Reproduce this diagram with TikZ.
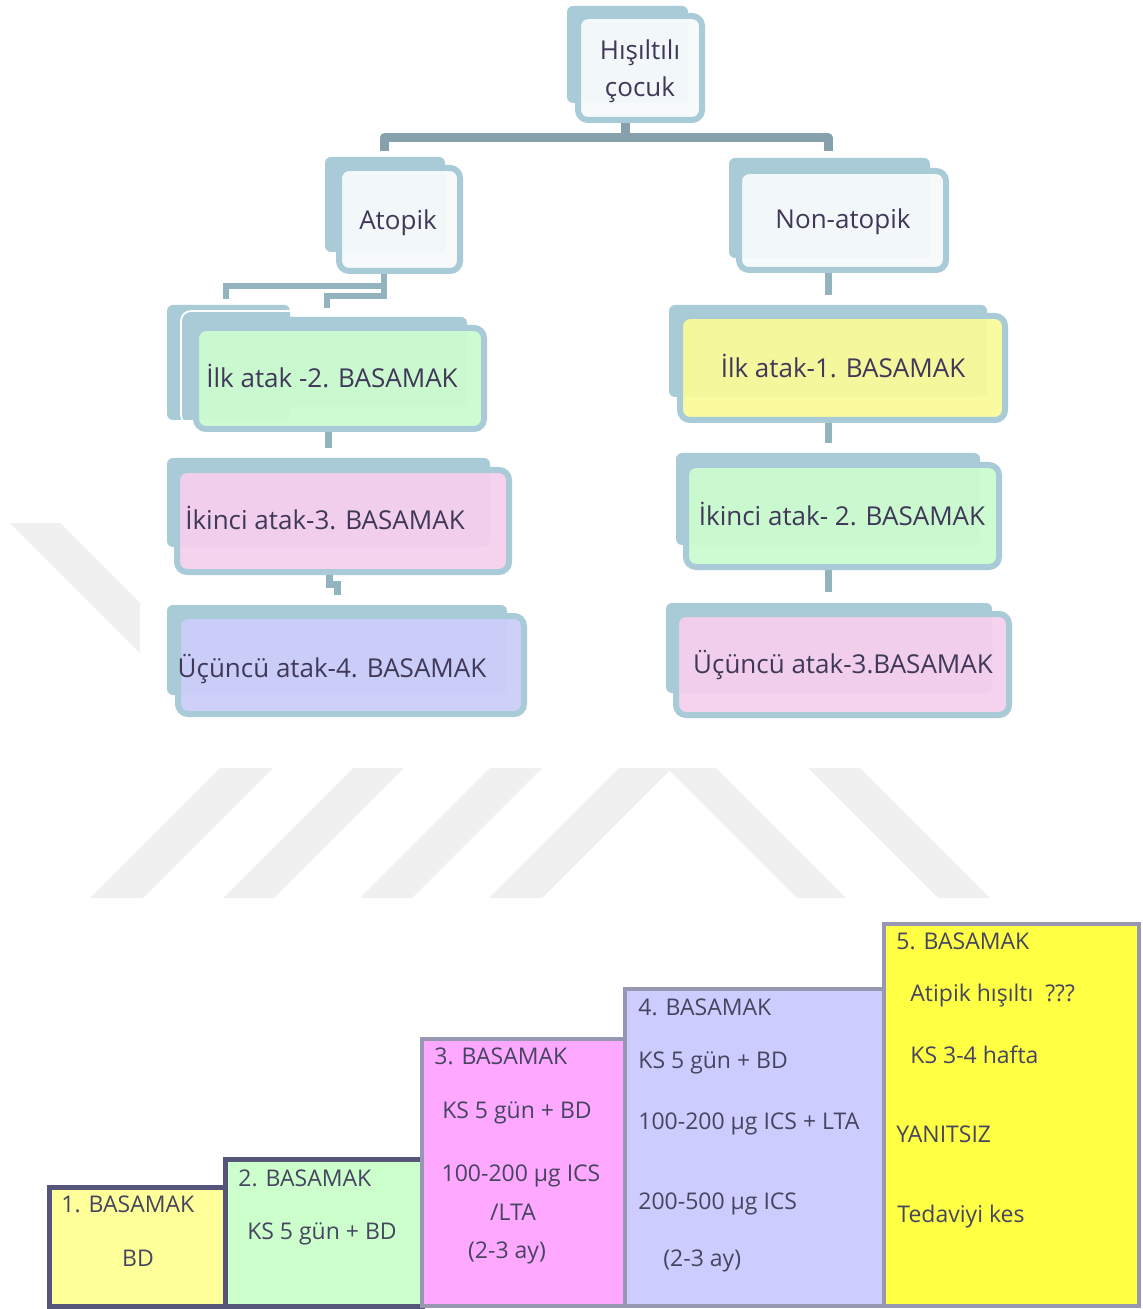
\documentclass[tikz,border=0pt]{standalone}
\usepackage{fontspec}
\setmainfont{Open Sans}
\usetikzlibrary{fit}
\definecolor{bluegrey}{HTML}{A8CBD7}
\definecolor{conncol}{HTML}{93B4BF}
\definecolor{barcol}{HTML}{86A1AB}
\definecolor{treetext}{HTML}{403858}
\definecolor{steptext}{HTML}{45455F}
\definecolor{wm}{HTML}{F0F0F0}
\definecolor{fwhite}{HTML}{F6FAFB}
\definecolor{fgreen}{HTML}{CCFCD0}
\definecolor{fpink}{HTML}{F5D0EE}
\definecolor{flav}{HTML}{CCCEFA}
\definecolor{fyellow}{HTML}{FAFA9A}
\definecolor{sy1}{HTML}{FFFF99}
\definecolor{sgr}{HTML}{CCFFCC}
\definecolor{spk}{HTML}{FFA8FF}
\definecolor{slv}{HTML}{CCCCFF}
\definecolor{sy5}{HTML}{FFFF44}
\definecolor{sdark}{HTML}{55557A}
\definecolor{slight}{HTML}{9797B2}
\tikzset{
  backbox/.style={fill=bluegrey, draw=none, rounded corners=3pt, inner sep=0pt},
  frontbox/.style={draw=bluegrey, line width=3pt, rounded corners=5pt, inner sep=0pt, fill opacity=0.95},
  treetxt/.style={font=\fontsize{13}{19}\selectfont, text=treetext, inner sep=0pt, anchor=base},
  conn/.style={draw=conncol, line width=3.5pt},
  ghostconn/.style={draw=conncol, line width=3pt},
  barline/.style={draw=barcol, line width=4.5pt, line join=round},
  stepbox/.style={draw=slight, line width=2pt, inner sep=0pt},
  steptxt/.style={font=\fontsize{11.5}{14}\selectfont, text=steptext, inner sep=0pt},
}
\begin{document}
\begin{tikzpicture}[x=0.5pt, y=-0.5pt]
\useasboundingbox (0,0) rectangle (1142,1309);
\fill[white] (0,0) rectangle (1142,1309);

% watermark
\fill[wm] (10,523) -- (60,523) -- (140,603) -- (140,653) -- cycle;
\fill[wm] (220,768) -- (273,768) -- (143,898) -- (90,898) -- cycle;
\fill[wm] (353,768) -- (404,768) -- (274,898) -- (223,898) -- cycle;
\fill[wm] (490,768) -- (542,768) -- (412,898) -- (360,898) -- cycle;
\fill[wm] (489,898) -- (619,768) -- (716,768) -- (846,898) -- (797,898) -- (669.5,770.5) -- (542,898) -- cycle;
\fill[wm] (808,768) -- (860,768) -- (990,898) -- (938,898) -- cycle;

% ---------- tree ----------
% root
\node[backbox, fit={(567,6) (688,103)}] (n0b) {};
\node[frontbox, fill=fwhite, fit={(578,16) (702,120)}] (n0) {};
\node[treetxt] (t0a) at (640,60) {Hışıltılı};
\node[treetxt] (t0b) at (640,97) {çocuk};

% atopik / non-atopik
\node[backbox, fit={(325,157) (445,252)}] (ab) {};
\node[frontbox, fill=fwhite, fit={(339,168) (460,271)}] (a) {};
\node[treetxt] (ta) at (398,230) {Atopik};
\node[backbox, fit={(729,158) (930,258)}] (bb) {};
\node[frontbox, fill=fwhite, fit={(739,171) (946,270)}] (b) {};
\node[treetxt] (tb) at (843,229) {Non-atopik};

% connectors from root
\coordinate (c0) at (625,138);
\coordinate (barL) at (384,138);
\coordinate (barR) at (828,138);
\coordinate (dropL) at (384,151);
\coordinate (dropR) at (828,151);
\draw[barline] (n0.south -| c0) -- (c0);
\draw[barline] (dropL) -- (barL) -- (barR) -- (dropR);

% left column
\node[backbox, fit={(167,305) (290,420)}] (gh) {};
\draw[white, line width=0.9pt, rounded corners=5pt] (181,311) rectangle (300,425);
\node[backbox, fit={(187,317) (467,407)}] (l1b) {};
\node[frontbox, fill=fgreen, fit={(196,328) (484,429)}] (l1) {};
\node[treetxt] (tl1) at (332,388) {İlk atak -2. BASAMAK};

\node[backbox, fit={(167,458) (490,547)}] (l2b) {};
\node[frontbox, fill=fpink, fit={(177,470) (509,572)}] (l2) {};
\node[treetxt] (tl2) at (325,530) {İkinci atak-3. BASAMAK};

\node[backbox, fit={(167,605) (507,695)}] (l3b) {};
\node[frontbox, fill=flav, fit={(178,616) (524,714)}] (l3) {};
\node[treetxt] (tl3) at (332,677) {Üçüncü atak-4. BASAMAK};

\coordinate (aK) at (384,286);
\coordinate (aJ) at (384,296);
\coordinate (g1) at (226,299);
\coordinate (g2) at (327,308);
\draw[ghostconn] (a.south -| aJ) -- (aJ) -| (g2);
\draw[ghostconn] (aK) -| (g1);
\coordinate (k12) at (328,448);
\draw[conn] (l1.south -| k12) -- (k12);
\coordinate (k23a) at (329,584);
\coordinate (k23b) at (337,595);
\draw[conn] (l2.south -| k23a) -- (k23a) -| (k23b);

% right column
\node[backbox, fit={(669,305) (987,397)}] (r1b) {};
\node[frontbox, fill=fyellow, fit={(680,316) (1005,420)}] (r1) {};
\node[treetxt] (tr1) at (843,378) {İlk atak-1. BASAMAK};

\node[backbox, fit={(676,453) (980,545)}] (r2b) {};
\node[frontbox, fill=fgreen, fit={(686,465) (999,567)}] (r2) {};
\node[treetxt] (tr2) at (842,525) {İkinci atak- 2. BASAMAK};

\node[backbox, fit={(666,603) (992,693)}] (r3b) {};
\node[frontbox, fill=fpink, fit={(676,614) (1009,715)}] (r3) {};
\node[treetxt] (tr3) at (843,673) {Üçüncü atak-3.BASAMAK};

\coordinate (kb1) at (828,295);
\coordinate (kr12) at (828,443);
\coordinate (kr23) at (828,592);
\draw[conn] (b.south -| kb1) -- (kb1);
\draw[conn] (r1.south -| kr12) -- (kr12);
\draw[conn] (r2.south -| kr23) -- (kr23);

% ---------- staircase ----------
\node[stepbox, draw=sdark, line width=2.5pt, fill=sy1, fit={(49,1187) (225,1306)}] (s1) {};
\node[stepbox, draw=sdark, line width=2.5pt, fill=sgr, fit={(225,1159) (422,1306)}] (s2) {};
\node[stepbox, fill=spk, fit={(422,1039) (625,1306)}] (s3) {};
\node[stepbox, fill=slv, fit={(625,989) (884,1306)}] (s4) {};
\node[stepbox, fill=sy5, fit={(884,924) (1139,1306)}] (s5) {};

\node[steptxt, anchor=base west] (s1a) at (61,1212) {1. BASAMAK};
\node[steptxt, anchor=base] (s1b) at (138,1266) {BD};

\node[steptxt, anchor=base west] (s2a) at (238,1186) {2. BASAMAK};
\node[steptxt, anchor=base] (s2b) at (322,1239) {KS 5 gün + BD};

\node[steptxt, anchor=base west] (s3a) at (434,1064) {3. BASAMAK};
\node[steptxt, anchor=base] (s3b) at (517,1118) {KS 5 gün + BD};
\node[steptxt, anchor=base] (s3c) at (521,1181) {100-200 µg ICS};
\node[steptxt, anchor=base] (s3d) at (513,1220) {/LTA};
\node[steptxt, anchor=base] (s3e) at (507,1258) {(2-3 ay)};

\node[steptxt, anchor=base west] (s4a) at (638,1015) {4. BASAMAK};
\node[steptxt, anchor=base west] (s4b) at (638,1068) {KS 5 gün + BD};
\node[steptxt, anchor=base west] (s4c) at (638,1129) {100-200 µg ICS + LTA};
\node[steptxt, anchor=base west] (s4d) at (638,1209) {200-500 µg ICS};
\node[steptxt, anchor=base west] (s4e) at (663,1266) {(2-3 ay)};

\node[steptxt, anchor=base west] (s5a) at (896,949) {5. BASAMAK};
\node[steptxt, anchor=base west] (s5b) at (910,1001) {Atipik hışıltı~\ ???};
\node[steptxt, anchor=base west] (s5c) at (910,1063) {KS 3-4 hafta};
\node[steptxt, anchor=base west] (s5d) at (896,1142) {YANITSIZ};
\node[steptxt, anchor=base west] (s5e) at (897,1222) {Tedaviyi kes};
\end{tikzpicture}
\end{document}
